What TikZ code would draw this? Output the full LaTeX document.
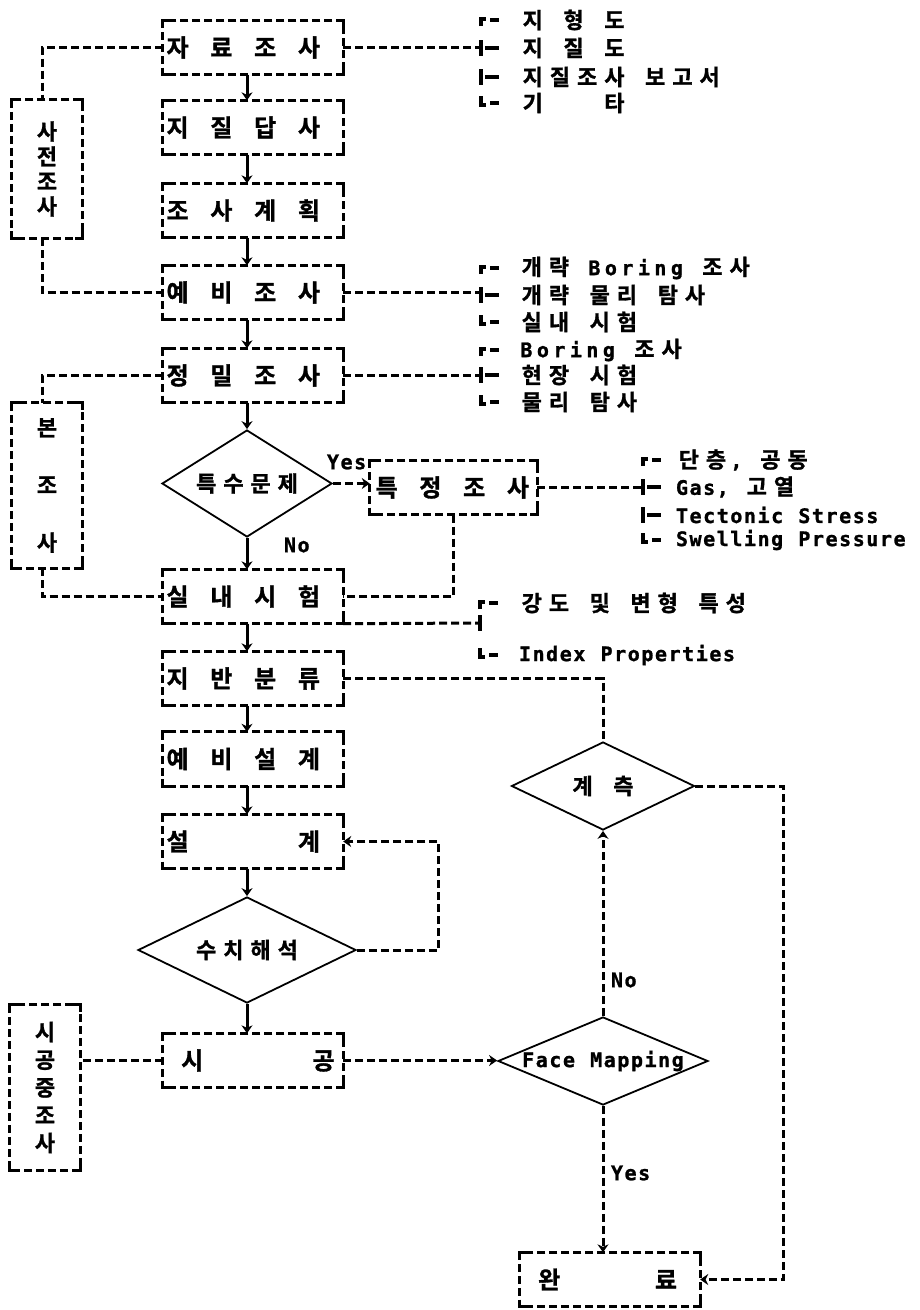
\documentclass[tikz,border=0pt]{standalone}
\usepackage{fontspec}
\newfontfamily\kr{Noto Sans CJK KR Bold}[FakeBold=1.2]
\newfontfamily\lat{DejaVu Sans Mono Bold}[FakeBold=1.2]
\usetikzlibrary{shapes.geometric,arrows.meta}
\newlength\cellw
\newlength\latw
\def\ksz{21pt}
\def\lsz{20pt}
\newcommand\krf{\kr\fontsize{\ksz}{\ksz}\selectfont}
\newcommand\latf{\lat\fontsize{\lsz}{\lsz}\selectfont}
\makeatletter
\def\tw@end{\tw@end@marker}
\newcommand\tw[1]{\tw@loop#1\tw@end}
\def\tw@loop#1{%
  \ifx#1\tw@end
  \else
    \ifx#1~\hspace*{\cellw}%
    \else
      \ifx#1|\hspace*{0.5\cellw}%
      \else
        \ifnum`#1>255 \makebox[2\cellw]{\krf#1}%
        \else\makebox[\latw]{\latf#1}%
        \fi
      \fi
    \fi
    \expandafter\tw@loop
  \fi}
\makeatother
\newcommand\boxfont{\def\ksz{24pt}\setlength\cellw{14.6pt}\setlength\latw{14.6pt}}
\newcommand\listfont{\def\ksz{22pt}\setlength\cellw{13.6pt}\setlength\latw{13.6pt}}
\newcommand\borfont{\def\ksz{22pt}\setlength\cellw{13.6pt}\setlength\latw{16.5pt}}
\tikzset{
  dline/.style={line width=3pt, dash pattern=on 8pt off 4pt},
  sline/.style={line width=3pt},
  brk/.style={line width=3.2pt},
  tip/.style={-{Stealth[length=8pt,width=11pt]}},
  mbox/.style={rectangle, minimum width=180pt, minimum height=54pt, text width=180pt,
    align=left, inner xsep=0pt, inner ysep=0pt, font=\boxfont},
  vbox/.style={rectangle, minimum width=70pt, align=center, inner sep=0pt},
  dia/.style={diamond, draw, line width=1.8pt, inner sep=0pt, font=\listfont},
  item/.style={anchor=west, inner sep=0pt, font=\listfont},
}
\newcommand\frm[1]{%
  \draw[dline] (#1.north west) rectangle (#1.south east);
  \draw[brk] ([yshift=-7pt]#1.north west) -- (#1.north west) -- ([xshift=7pt]#1.north west);
  \draw[brk] ([yshift=-7pt]#1.north east) -- (#1.north east) -- ([xshift=-7pt]#1.north east);
  \draw[brk] ([yshift=7pt]#1.south west) -- (#1.south west) -- ([xshift=7pt]#1.south west);
  \draw[brk] ([yshift=7pt]#1.south east) -- (#1.south east) -- ([xshift=-7pt]#1.south east);}
\newcommand\rtop[2]{\draw[brk] (#1,#2+6) -- (#1,#2-1) -- (#1+5,#2-1); \draw[brk] (#1+9,#2) -- (#1+18,#2);}
\newcommand\rmid[2]{\draw[brk] (#1,#2-8) -- (#1,#2+8); \draw[brk] (#1+4,#2) -- (#1+18,#2);}
\newcommand\rbar[2]{\draw[brk] (#1,#2-8) -- (#1,#2+8);}
\newcommand\rbot[2]{\draw[brk] (#1,#2-7) -- (#1,#2+2) -- (#1+5,#2+2); \draw[brk] (#1+9,#2) -- (#1+18,#2);}
\begin{document}
\begin{tikzpicture}[x=1pt,y=-1pt]
\fill[white] (0,0) rectangle (920,1310);
\useasboundingbox (0,0) rectangle (920,1310);
% main column
\node[mbox] (b1) at (253,47.5) {\tw{자~료~조~사}};
\node[mbox] (b2) at (253,127.5) {\tw{지~질~답~사}};
\node[mbox] (b3) at (253,210.5) {\tw{조~사~계~획}};
\node[mbox] (b4) at (253,292.5) {\tw{예~비~조~사}};
\node[mbox] (b5) at (253,375.5) {\tw{정~밀~조~사}};
\node[dia, minimum width=170pt, minimum height=107pt] (d1) at (247,483.5) {\makebox[0pt]{\tw{특수문제}}};
\node[mbox, minimum width=167pt, text width=163pt, inner xsep=2pt] (sp) at (453.5,487.5) {\tw{특~정~조~사}};
\node[mbox] (b6) at (253,596.5) {\tw{실~내~시~험}};
\node[mbox] (b7) at (253,678.5) {\tw{지~반~분~류}};
\node[mbox] (b8) at (253,759) {\tw{예~비~설~계}};
\node[mbox] (b9) at (253,841.5) {\tw{설~~~~~~~계}};
\node[dia, minimum width=218pt, minimum height=106pt] (d2) at (247,950) {\makebox[0pt]{\tw{수치해석}}};
\node[mbox] (b10) at (253,1060.5) {\tw{~시~~~~~~~공}};
\node[dia, minimum width=183pt, minimum height=88pt] (m) at (603,786) {\makebox[0pt]{\tw{계~측}}};
\node[dia, minimum width=210pt, minimum height=88pt] (fm) at (603,1061) {\makebox[0pt]{\tw{Face~Mapping}}};
\node[mbox] (done) at (610,1279.5) {\tw{~완~~~~~~료}};
% side boxes
\node[vbox, minimum height=138pt, font=\listfont\fontsize{21pt}{25pt}\selectfont] (s1) at (47,169) {\tw{사}\\\tw{전}\\\tw{조}\\\tw{사}};
\node[vbox, minimum height=165pt, font=\listfont\fontsize{21pt}{57.5pt}\selectfont] (s2) at (47,485.5) {\tw{본}\\\tw{조}\\\tw{사}};
\node[vbox, minimum height=165pt, font=\listfont\fontsize{21pt}{27.75pt}\selectfont] (s3) at (45,1087.5) {\tw{시}\\\tw{공}\\\tw{중}\\\tw{조}\\\tw{사}};
\foreach \n in {b1,b2,b3,b4,b5,b6,b7,b8,b9,b10,sp,done,s1,s2,s3} {\frm{\n}}
% main arrows
\draw[sline,tip] ([xshift=-6pt]b1.south) -- ([xshift=-6pt]b2.north);
\draw[sline,tip] ([xshift=-6pt]b2.south) -- ([xshift=-6pt]b3.north);
\draw[sline,tip] ([xshift=-6pt]b3.south) -- ([xshift=-6pt]b4.north);
\draw[sline,tip] ([xshift=-6pt]b4.south) -- ([xshift=-6pt]b5.north);
\draw[sline,tip] ([xshift=-6pt]b5.south) -- (d1.north);
\draw[sline,tip] (d1.south) -- (d1.south |- b6.north);
\draw[sline,tip] ([xshift=-6pt]b6.south) -- ([xshift=-6pt]b7.north);
\draw[sline,tip] ([xshift=-6pt]b7.south) -- ([xshift=-6pt]b8.north);
\draw[sline,tip] ([xshift=-6pt]b8.south) -- ([xshift=-6pt]b9.north);
\draw[sline,tip] ([xshift=-6pt]b9.south) -- (d2.north);
\draw[sline,tip] (d2.south) -- (d2.south |- b10.north);
\draw[dline,tip] (d1.east) -- (d1.east -| sp.west);
% side connections
\draw[dline] (b1.west) -| ([xshift=-5pt]s1.north);
\draw[dline] ([xshift=-5pt]s1.south) |- (b4.west);
\draw[dline] (b5.west) -| ([xshift=-5pt]s2.north);
\draw[dline] ([xshift=-5pt]s2.south) |- (b6.west);
\draw[dline] (b10.west) -- (b10.west -| s3.east);
\draw[dline] (sp.south) |- (b6.east);
\draw[dline,tip] (d2.east) -- ++(82,0) |- (b9.east);
\draw[dline] (b7.east) -| (m.north);
\draw[dline,tip] (m.east) -- ++(88,0) |- (done.east);
\draw[dline,tip] (fm.north) -- (m.south);
\draw[dline,tip] (fm.south) -- (fm.south |- done.north);
\draw[dline,tip] (b10.east) -- (b10.east -| fm.west);
% labels
\node[item] (yes1) at (326,462) {\tw{Yes}};
\node[item] (no1) at (283,545) {\tw{No}};
\node[item] (no2) at (610,980) {\tw{No}};
\node[item] (yes2) at (610,1173) {\tw{Yes}};
% list 1
\coordinate (j1) at (481,48);
\draw[dline] (b1.east) -- (b1.east -| j1);
\rtop{481}{20}\rmid{481}{48}\rmid{481}{77}\rbot{481}{103}
\node[item] (l1a) at (519,20) {\tw{지~형~도}};
\node[item] (l1b) at (519,48) {\tw{지~질~도}};
\node[item] (l1c) at (519,77) {\tw{지질조사~보고서}};
\node[item] (l1d) at (519,103) {\tw{기~~~~타}};
% list 2
\coordinate (j2) at (481,295);
\draw[dline] (b4.east) -- (b4.east -| j2);
\rtop{481}{268}\rmid{481}{295}\rbot{481}{322}
\node[item, font=\borfont] (l2a) at (518,268) {\tw{개략~Boring~조사}};
\node[item] (l2b) at (518,295) {\tw{개략~물리~탐사}};
\node[item] (l2c) at (518,322) {\tw{실내~시험}};
% list 3
\coordinate (j3) at (481,375);
\draw[dline] (b5.east) -- (b5.east -| j3);
\rtop{481}{350}\rmid{481}{375}\rbot{481}{402}
\node[item, font=\borfont] (l3a) at (518,350) {\tw{Boring~조사}};
\node[item] (l3b) at (518,375) {\tw{현장~시험}};
\node[item] (l3c) at (518,402) {\tw{물리~탐사}};
% list 4
\coordinate (j4) at (643,487);
\draw[dline] (sp.east) -- (sp.east -| j4);
\rtop{643}{460}\rmid{643}{487}\rmid{643}{515}\rbot{643}{540}
\node[item] (l4a) at (675,460) {\tw{단층,~공동}};
\node[item] (l4b) at (675,487) {\tw{Gas,~고열}};
\node[item] (l4c) at (675,515) {\tw{Tectonic~Stress}};
\node[item] (l4d) at (675,540) {\tw{Swelling~Pressure}};
% list 5
\coordinate (j5) at (480,623);
\draw[dline] (b6.south east) -- (j5);
\rtop{480}{603}\rbar{480}{623}\rbot{480}{655}
\node[item] (l5a) at (518,603) {\tw{강도~및~변형~특성}};
\node[item] (l5b) at (518,655) {\tw{Index~Properties}};
\end{tikzpicture}
\end{document}
